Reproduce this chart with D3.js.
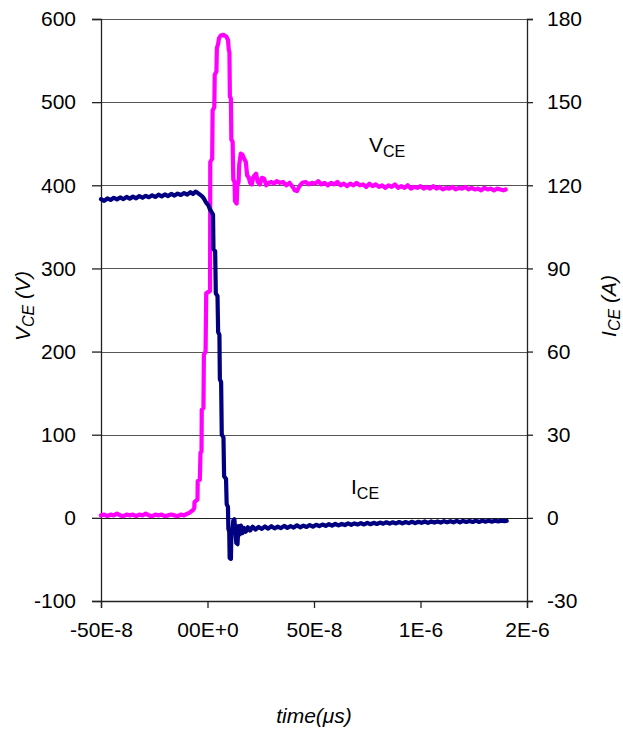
<!DOCTYPE html>
<html><head><meta charset="utf-8">
<script src="https://cdn.jsdelivr.net/npm/d3@7"></script>
<style>
html,body{margin:0;padding:0;background:#fff;}
text{font-family:"Liberation Sans",Arial,sans-serif;fill:#000;}
</style></head>
<body><svg id="chart" width="623" height="736"></svg>
<script>
// time in ns
const xTickValues = [-500, 0, 500, 1000, 1500];
const xTickLabels = ["-50E-8", "00E+0", "50E-8", "1E-6", "2E-6"];
const vTicks = [-100, 0, 100, 200, 300, 400, 500, 600];
const iTicks = [-30, 0, 30, 60, 90, 120, 150, 180];

const vceT = [-500,-485,-470,-455,-440,-425,-410,-395,-380,-365,-350,-335,-320,-305,-290,-275,-260,-245,-230,-215,-200,-185,-170,-155,-140,-125,-110,-95,-85,-75,-66,-62,-61,-52,-47,-46,-36,-33,-28,-27,-19,-17,-9,-6,12,13,22,24,32,34,42,44,50,54,62,75,88,96,100,103,105,110,112,118,121,127,129,137,140,146,149,156,164,172,180,186,194,200,208,215,228,236,246,255,266,276,288,300,312,325,340,355,370,385,400,410,420,432,445,460,475,490,505,520,535,550,565,580,595,610,625,640,655,670,685,700,715,730,745,760,775,790,805,820,835,850,865,880,895,910,925,940,955,970,985,1000,1015,1030,1045,1060,1075,1090,1105,1120,1135,1150,1165,1180,1195,1210,1225,1240,1255,1270,1285,1300,1315,1330,1345,1360,1375,1390,1400];
const vceV = [3,4,2,4,3,5,3,2,4,3,4,2,4,3,5,3,2,4,3,4,2,3,4,3,2,4,3,5,6,8,10,12,19,21,22,44,46,78,80,130,132,196,200,270,273,428,432,490,494,533,537,565,570,577,580,581,579,575,563,560,507,504,455,452,407,404,381,378,400,404,425,438,437,432,428,412,409,403,401,410,414,404,401,409,408,400,403,404,402,405,403,404,400,403,398,394,393,399,403,404,401,403,402,405,401,403,400,403,401,404,400,402,399,402,400,403,400,401,398,402,399,401,398,400,397,400,398,401,397,399,397,400,396,398,397,399,396,398,396,399,396,398,395,397,396,398,395,397,396,398,395,397,395,396,394,397,395,396,394,396,395,394,395];

const iceT = [-500,-485,-470,-455,-440,-425,-410,-395,-380,-365,-350,-335,-320,-305,-290,-275,-260,-245,-230,-215,-200,-185,-170,-155,-140,-125,-110,-95,-80,-68,-56,-45,-35,-25,-17,-10,-3,5,12,20,26,28,36,39,47,50,56,58,64,67,75,78,87,90,96,98,102,104,110,112,117,121,126,130,135,141,145,151,157,164,171,180,190,200,212,225,240,255,270,285,300,315,330,345,360,375,390,405,420,435,450,465,480,495,510,525,540,555,570,585,600,615,630,645,660,675,690,705,720,735,750,765,780,795,810,825,840,855,870,885,900,915,930,945,960,975,990,1005,1020,1035,1050,1065,1080,1095,1110,1125,1140,1155,1170,1185,1200,1215,1230,1245,1260,1275,1290,1305,1320,1335,1350,1365,1380,1395,1405];
const iceV = [115.0,114.4,115.3,114.7,115.5,114.9,115.6,115.0,115.8,115.2,115.9,115.3,116.1,115.5,116.2,115.7,116.4,115.8,116.6,116.0,116.7,116.1,116.9,116.3,117.0,116.5,117.2,116.6,117.5,116.9,117.7,117.2,116.6,116.0,115.2,114.2,113.4,112.6,111.2,110.2,109.4,97.0,96.2,81.0,80.0,67.0,66.0,50.0,49.0,30.0,29.0,15.0,14.0,5.0,4.0,-4.0,-5.0,-14.5,-14.8,-6.0,-4.5,-1.0,-0.5,-4.0,-9.0,-9.5,-3.0,-6.0,-2.8,-5.5,-3.6,-5.0,-3.4,-4.6,-3.2,-4.2,-3.3,-4.0,-3.1,-3.9,-3.0,-3.8,-3.2,-3.7,-2.9,-3.6,-3.0,-3.5,-2.7,-3.4,-2.8,-3.3,-2.6,-3.2,-2.5,-3.0,-2.4,-2.9,-2.3,-2.8,-2.2,-2.7,-2.2,-2.6,-2.0,-2.5,-2.0,-2.4,-1.9,-2.4,-1.8,-2.3,-1.8,-2.2,-1.7,-2.1,-1.6,-2.1,-1.6,-2.0,-1.5,-2.0,-1.5,-1.9,-1.4,-1.9,-1.4,-1.8,-1.3,-1.8,-1.3,-1.7,-1.3,-1.7,-1.2,-1.6,-1.2,-1.6,-1.1,-1.6,-1.1,-1.5,-1.1,-1.5,-1.0,-1.5,-1.0,-1.4,-1.0,-1.4,-1.0,-1.3,-1.0,-1.2,-1.1];

const svg = d3.select("#chart");
const L = 101, R = 527, T = 19, B = 601;
const x = d3.scaleLinear().domain([-500, 1500]).range([L, R]);
const yV = d3.scaleLinear().domain([-100, 600]).range([B, T]);
const yI = d3.scaleLinear().domain([-30, 180]).range([B, T]);
const FS = 21;

// gridlines
svg.append("g").selectAll("line").data(vTicks.slice(1)).join("line")
  .attr("x1", L).attr("x2", R)
  .attr("y1", d => Math.round(yV(d)) + 0.5).attr("y2", d => Math.round(yV(d)) + 0.5)
  .attr("stroke", d => d === 0 ? "#222" : "#555").attr("stroke-width", 1.2);

// left axis
const gl = svg.append("g").attr("transform", `translate(${L},0)`)
  .call(d3.axisLeft(yV).tickValues(vTicks).tickSize(9).tickPadding(16).tickFormat(d => String(d)));
// right axis
const gr = svg.append("g").attr("transform", `translate(${R},0)`)
  .call(d3.axisRight(yI).tickValues(iTicks).tickSize(6).tickPadding(14).tickFormat(d => String(d)));
// bottom axis
const gb = svg.append("g").attr("transform", `translate(0,${B})`)
  .call(d3.axisBottom(x).tickValues(xTickValues).tickSize(7).tickPadding(14).tickFormat((d, i) => xTickLabels[i]));
[gl, gr, gb].forEach(g => {
  g.select(".domain").attr("stroke", "#222").attr("stroke-width", 1.3);
  g.selectAll(".tick line").attr("stroke", "#222").attr("stroke-width", 1.3);
  g.selectAll(".tick text").attr("font-size", FS).attr("font-family", "Liberation Sans, Arial, sans-serif").attr("fill", "#000");
});

// series
const lineV = d3.line().x((d, i) => x(vceT[i])).y(d => yV(d));
const lineI = d3.line().x((d, i) => x(iceT[i])).y(d => yI(d));
svg.append("path").datum(vceV).attr("d", lineV).attr("fill", "none")
  .attr("stroke", "#FF00FF").attr("stroke-width", 4.2).attr("stroke-linejoin", "round").attr("stroke-linecap", "round");
svg.append("path").datum(iceV).attr("d", lineI).attr("fill", "none")
  .attr("stroke", "#000080").attr("stroke-width", 4.2).attr("stroke-linejoin", "round").attr("stroke-linecap", "round");

// in-plot labels
function subLabel(px, py, main, sub) {
  const t = svg.append("text").attr("x", px).attr("y", py).attr("font-size", FS);
  t.append("tspan").text(main);
  t.append("tspan").attr("font-size", 16).attr("dy", 5).text(sub);
}
subLabel(369, 152, "V", "CE");
subLabel(351, 494, "I", "CE");

// axis titles
const lt = svg.append("text").attr("transform", "translate(30,306) rotate(-90)")
  .attr("text-anchor", "middle").attr("font-size", FS).attr("font-style", "italic");
lt.append("tspan").text("V");
lt.append("tspan").attr("font-size", 16).attr("dy", 4).text("CE");
lt.append("tspan").attr("dy", -4).text(" (V)");

const rt = svg.append("text").attr("transform", "translate(616,306) rotate(-90)")
  .attr("text-anchor", "middle").attr("font-size", FS).attr("font-style", "italic");
rt.append("tspan").text("I");
rt.append("tspan").attr("font-size", 16).attr("dy", 4).text("CE");
rt.append("tspan").attr("dy", -4).text(" (A)");

svg.append("text").attr("x", 314).attr("y", 723).attr("text-anchor", "middle")
  .attr("font-size", FS).attr("font-style", "italic").text("time(μs)");
</script></body></html>
